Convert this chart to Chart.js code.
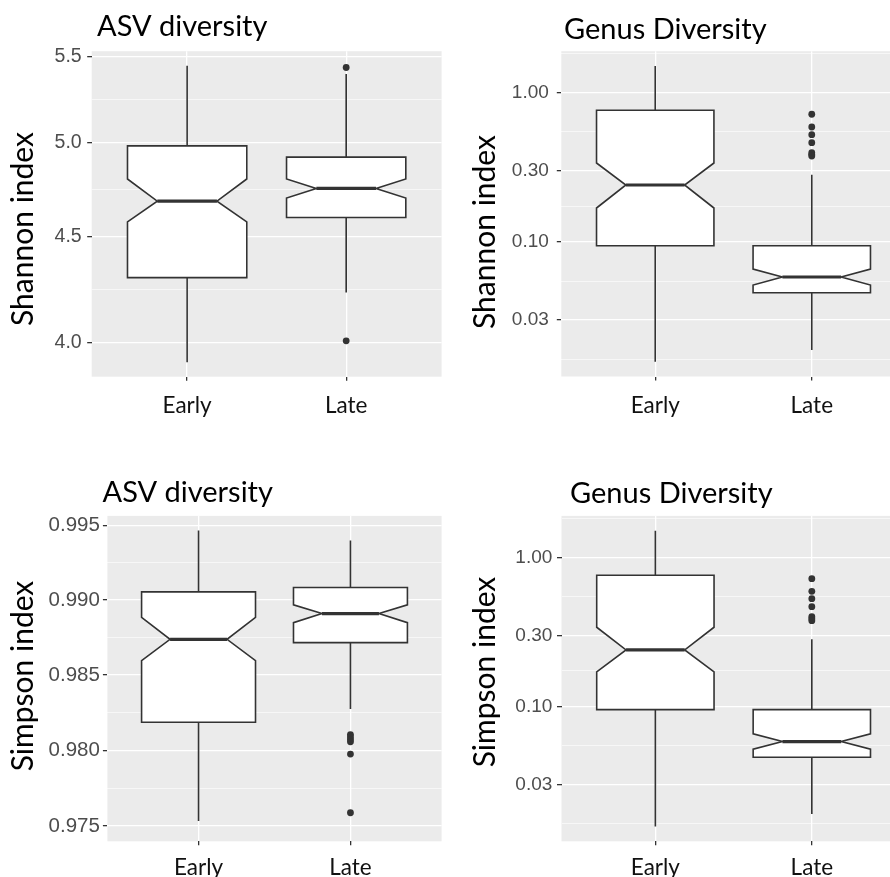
<!DOCTYPE html>
<html>
<head>
<meta charset="utf-8">
<script src="https://cdn.jsdelivr.net/npm/chart.js@4.4.0/dist/chart.umd.min.js"></script>
<style>
  html, body { margin: 0; padding: 0; background: #ffffff; overflow: hidden; width: 890px; height: 877px; }
  canvas { position: absolute; }
</style>
</head>
<body>
<canvas id="asvShannon"></canvas>
<canvas id="genusShannon"></canvas>
<canvas id="asvSimpson"></canvas>
<canvas id="genusSimpson"></canvas>
<script>
// Sampling groups on the x axis
const groups = ['Early', 'Late'];

// Box summaries per group:
// [lower whisker, Q1, notch low, median, notch high, Q3, upper whisker]
const asvShannonBoxes = [
  [3.914, 4.301, 4.576, 4.683, 4.800, 4.980, 5.444],
  [4.230, 4.599, 4.699, 4.750, 4.800, 4.918, 5.395]
];
const asvShannonOutliers = [[], [5.434, 4.009]];

const genusShannonBoxes = [
  [0.01578, 0.0944, 0.1689, 0.2408, 0.338, 0.762, 1.509],
  [0.0189, 0.0457, 0.0515, 0.0583, 0.0659, 0.0944, 0.2824]
];
const genusShannonOutliers = [[], [0.7167, 0.589, 0.523, 0.4625, 0.396, 0.385, 0.3767]];

const asvSimpsonBoxes = [
  [0.97533, 0.98186, 0.98595, 0.98737, 0.98883, 0.99054, 0.99465],
  [0.98273, 0.98715, 0.98848, 0.98909, 0.98967, 0.99083, 0.99398]
];
const asvSimpsonOutliers = [[], [0.98104, 0.98088, 0.98072, 0.98056, 0.97975, 0.97588]];

const genusSimpsonBoxes = [
  [0.01573, 0.0954, 0.1707, 0.2395, 0.340, 0.7577, 1.507],
  [0.0191, 0.0458, 0.0519, 0.0583, 0.0657, 0.0954, 0.2826]
];
const genusSimpsonOutliers = [[], [0.719, 0.592, 0.528, 0.467, 0.400, 0.388, 0.376]];

// Log10 axis breaks (major with labels, minor unlabelled)
const asvShannonTicks = [4.0, 4.5, 5.0, 5.5];
const asvShannonTickLabels = ['4.0', '4.5', '5.0', '5.5'];
const asvShannonMinor = [4.243, 4.743, 5.244];

const genusTicks = [0.03, 0.1, 0.3, 1];
const genusTickLabels = ['0.03', '0.10', '0.30', '1.00'];
const genusMinor = [0.01643, 0.05477, 0.1732, 0.5477, 1.826];

const asvSimpsonTicks = [0.975, 0.980, 0.985, 0.990, 0.995];
const asvSimpsonTickLabels = ['0.975', '0.980', '0.985', '0.990', '0.995'];
const asvSimpsonMinor = [0.9775, 0.9825, 0.9875, 0.9925];

const INK = '#333333';
const PANEL_BG = '#EBEBEB';

// Grey panel background behind the grid
const panelBackground = {
  id: 'panelBackground',
  beforeDraw(chart) {
    const { ctx, chartArea: a } = chart;
    ctx.save();
    ctx.fillStyle = PANEL_BG;
    ctx.fillRect(a.left, a.top, a.right - a.left, a.bottom - a.top);
    ctx.restore();
  }
};

// Notched box-and-whisker marks, placed through the chart's own scales
function notchedBoxes(boxes) {
  return {
    id: 'notchedBoxes',
    beforeDatasetsDraw(chart) {
      const { ctx, chartArea: a, scales: { x, y } } = chart;
      const halfBox = 0.375, halfNotch = 0.1875;
      ctx.save();
      ctx.beginPath();
      ctx.rect(a.left, a.top, a.right - a.left, a.bottom - a.top);
      ctx.clip();
      ctx.strokeStyle = INK;
      ctx.lineJoin = 'miter';
      boxes.forEach((b, i) => {
        const [lo, q1, nlo, med, nhi, q3, hi] = b.map(v => y.getPixelForValue(v));
        const c = i + 1;
        const cx = x.getPixelForValue(c);
        const xl = x.getPixelForValue(c - halfBox), xr = x.getPixelForValue(c + halfBox);
        const nl = x.getPixelForValue(c - halfNotch), nr = x.getPixelForValue(c + halfNotch);
        // whiskers
        ctx.lineWidth = 1.6;
        ctx.beginPath();
        ctx.moveTo(cx, hi); ctx.lineTo(cx, q3);
        ctx.moveTo(cx, q1); ctx.lineTo(cx, lo);
        ctx.stroke();
        // box with notch
        ctx.beginPath();
        ctx.moveTo(xl, q1);
        ctx.lineTo(xl, nlo);
        ctx.lineTo(nl, med);
        ctx.lineTo(xl, nhi);
        ctx.lineTo(xl, q3);
        ctx.lineTo(xr, q3);
        ctx.lineTo(xr, nhi);
        ctx.lineTo(nr, med);
        ctx.lineTo(xr, nlo);
        ctx.lineTo(xr, q1);
        ctx.closePath();
        ctx.fillStyle = '#ffffff';
        ctx.fill();
        ctx.stroke();
        // median
        ctx.lineWidth = 3.2;
        ctx.beginPath();
        ctx.moveTo(nl, med); ctx.lineTo(nr, med);
        ctx.stroke();
      });
      ctx.restore();
    }
  };
}

// Panel heading and rotated y-axis title
const panelText = {
  id: 'panelText',
  afterDraw(chart, args, o) {
    const ctx = chart.ctx;
    ctx.save();
    ctx.fillStyle = '#000000';
    ctx.textBaseline = 'alphabetic';
    ctx.textAlign = 'left';
    ctx.font = o.titleSize + 'px Lato';
    ctx.fillText(o.title, o.titleX, o.titleY);
    ctx.translate(o.yTitleX, o.yTitleY);
    ctx.rotate(-Math.PI / 2);
    ctx.textAlign = 'center';
    ctx.font = o.yTitleSize + 'px Lato';
    ctx.fillText(o.yTitle, 0, 0);
    ctx.restore();
  }
};

function buildPanel(p) {
  const canvas = document.getElementById(p.id);
  canvas.width = p.width;
  canvas.height = p.height;
  canvas.style.left = p.left + 'px';
  canvas.style.top = p.top + 'px';
  canvas.style.width = p.width + 'px';
  canvas.style.height = p.height + 'px';

  const minorSet = new Set(p.minor);
  const allTicks = p.ticks.concat(p.minor).sort((a, b) => a - b);
  const isMinor = ctx => ctx.tick && minorSet.has(ctx.tick.value);

  const outlierPoints = [];
  p.outliers.forEach((list, i) => list.forEach(v => outlierPoints.push({ x: i + 1, y: v })));

  new Chart(canvas, {
    type: 'scatter',
    data: {
      datasets: [{
        data: outlierPoints,
        pointRadius: 3.4,
        pointHoverRadius: 3.4,
        pointBackgroundColor: INK,
        pointBorderWidth: 0,
        borderWidth: 0
      }]
    },
    options: {
      responsive: false,
      animation: false,
      events: [],
      layout: { padding: { top: p.padTop, right: p.padRight, left: 0, bottom: 0 } },
      plugins: {
        legend: { display: false },
        tooltip: { enabled: false },
        title: { display: false },
        panelText: {
          title: p.title, titleX: p.titleX, titleY: p.titleY, titleSize: 29,
          yTitle: p.yTitle, yTitleX: p.yTitleX, yTitleY: p.yTitleY, yTitleSize: 30
        }
      },
      scales: {
        x: {
          type: 'linear',
          min: 0.4,
          max: 2.6,
          afterBuildTicks: s => { s.ticks = groups.map((g, i) => ({ value: i + 1 })); },
          afterFit: s => { s.height = p.xAxisHeight; },
          ticks: {
            callback: (v, i) => groups[i],
            autoSkip: false,
            maxRotation: 0,
            padding: p.xLabelPad,
            color: '#111111',
            font: { family: 'Lato', size: 22.5 }
          },
          grid: { color: '#ffffff', lineWidth: 1.3, tickColor: INK, tickLength: 4, tickWidth: 1.3 },
          border: { display: false }
        },
        y: {
          type: 'logarithmic',
          min: p.yMin,
          max: p.yMax,
          afterBuildTicks: s => { s.ticks = allTicks.map(v => ({ value: v })); },
          afterFit: s => { s.width = p.yAxisWidth; },
          ticks: {
            callback: v => {
              const k = p.ticks.indexOf(v);
              return k >= 0 ? p.tickLabels[k] : '';
            },
            autoSkip: false,
            padding: p.yLabelPad,
            color: '#4D4D4D',
            font: { family: '"Liberation Sans", Arial, sans-serif', size: p.yTickSize }
          },
          grid: {
            color: '#ffffff',
            lineWidth: ctx => isMinor(ctx) ? 0.6 : 1.3,
            tickColor: ctx => isMinor(ctx) ? 'rgba(0,0,0,0)' : INK,
            tickLength: 4.5,
            tickWidth: 1.3
          },
          border: { display: false }
        }
      }
    },
    plugins: [panelBackground, notchedBoxes(p.boxes), panelText]
  });
}

const panels = [
  {
    id: 'asvShannon', left: 0, top: 0, width: 445, height: 420,
    padTop: 51.2, padRight: 1.7, yAxisWidth: 91.7, xAxisHeight: 43.3,
    xLabelPad: 11.5, yLabelPad: 5.5, yTickSize: 19.5,
    yMin: 3.852, yMax: 5.5335,
    ticks: asvShannonTicks, tickLabels: asvShannonTickLabels, minor: asvShannonMinor,
    boxes: asvShannonBoxes, outliers: asvShannonOutliers,
    title: 'ASV diversity', titleX: 97, titleY: 36,
    yTitle: 'Shannon index', yTitleX: 33, yTitleY: 229
  },
  {
    id: 'genusShannon', left: 445, top: 0, width: 470, height: 420,
    padTop: 51.2, padRight: 9.3, yAxisWidth: 116.3, xAxisHeight: 43.5,
    xLabelPad: 11.5, yLabelPad: 8, yTickSize: 19,
    yMin: 0.012567, yMax: 1.8954,
    ticks: genusTicks, tickLabels: genusTickLabels, minor: genusMinor,
    boxes: genusShannonBoxes, outliers: genusShannonOutliers,
    title: 'Genus Diversity', titleX: 119, titleY: 39.3,
    yTitle: 'Shannon index', yTitleX: 50, yTitleY: 232
  },
  {
    id: 'asvSimpson', left: 0, top: 460, width: 445, height: 417,
    padTop: 55.9, padRight: 1.7, yAxisWidth: 107.4, xAxisHeight: 35.7,
    xLabelPad: 8.5, yLabelPad: 3, yTickSize: 20.5,
    yMin: 0.97437, yMax: 0.99563,
    ticks: asvSimpsonTicks, tickLabels: asvSimpsonTickLabels, minor: asvSimpsonMinor,
    boxes: asvSimpsonBoxes, outliers: asvSimpsonOutliers,
    title: 'ASV diversity', titleX: 102.5, titleY: 41.7,
    yTitle: 'Simpson index', yTitleX: 33, yTitleY: 216
  },
  {
    id: 'genusSimpson', left: 445, top: 460, width: 470, height: 417,
    padTop: 55.9, padRight: 9.3, yAxisWidth: 116.5, xAxisHeight: 35.7,
    xLabelPad: 8.5, yLabelPad: 4.7, yTickSize: 19,
    yMin: 0.012526, yMax: 1.8931,
    ticks: genusTicks, tickLabels: genusTickLabels, minor: genusMinor,
    boxes: genusSimpsonBoxes, outliers: genusSimpsonOutliers,
    title: 'Genus Diversity', titleX: 125, titleY: 43.3,
    yTitle: 'Simpson index', yTitleX: 50, yTitleY: 212
  }
];

Promise.all([
  document.fonts.load('29px Lato'),
  document.fonts.load('19px "Liberation Sans"')
]).catch(() => {}).then(() => panels.forEach(buildPanel));
</script>
</body>
</html>
